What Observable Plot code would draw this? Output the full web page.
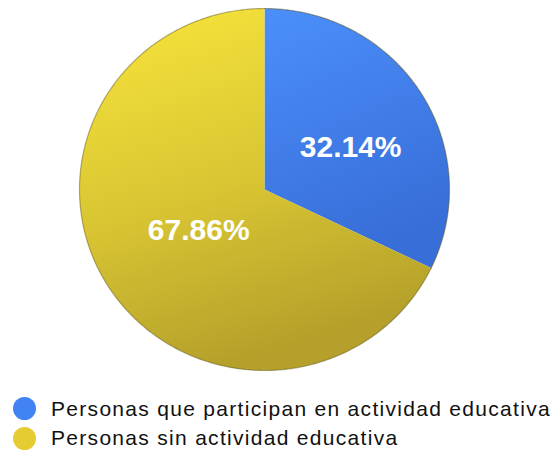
<!DOCTYPE html>
<html>
<head>
<meta charset="utf-8">
<script src="https://cdn.jsdelivr.net/npm/d3@7"></script>
<script src="https://cdn.jsdelivr.net/npm/@observablehq/plot@0.6"></script>
<style>
  html, body { margin: 0; padding: 0; background: #fff; }
  #wrap { width: 558px; height: 452px; position: relative; font-family: "Liberation Sans", Arial, Helvetica, sans-serif; overflow: hidden; }
  #chart svg { display: block; }
  #legend { padding-top: 9px; }
  .row { display: flex; align-items: center; height: 29.5px; font-size: 21px; letter-spacing: 1.3px; color: #111; white-space: nowrap; }
  .sw { width: 23px; height: 23px; border-radius: 50%; margin-left: 13px; margin-right: 15px; flex: none; }
</style>
</head>
<body>
<div id="wrap"><div id="chart"></div><div id="legend"></div></div>
<script>
const categories = ["Personas que participan en actividad educativa", "Personas sin actividad educativa"];
const values = [32.14, 67.86];
const labels = ["32.14%", "67.86%"];
const colors = ["#4183f2", "#e4cc32"];

// Slice geometry from data (d3.pie), drawn through Plot scales
const pie = d3.pie().sort(null).value(d => d.value)(categories.map((c, i) => ({c, value: values[i], label: labels[i], i})));
const outline = [];
pie.forEach(p => {
  const n = Math.max(2, Math.ceil((p.endAngle - p.startAngle) / (Math.PI / 360)));
  outline.push({c: p.data.c, x: 0, y: 0});
  for (let k = 0; k <= n; k++) {
    const a = p.startAngle + (p.endAngle - p.startAngle) * k / n;
    outline.push({c: p.data.c, x: Math.sin(a), y: Math.cos(a)});
  }
  outline.push({c: p.data.c, x: 0, y: 0});
});
const labelPos = (p, r) => {
  const a = (p.startAngle + p.endAngle) / 2;
  return {x: r * Math.sin(a), y: r * Math.cos(a), label: p.data.label};
};
const blueLabel = [labelPos(pie[0], 0.55)].map(d => ({...d, y: d.y - 0.06}));
const yellowLabel = [labelPos(pie[1], 0.42)];

const W = 558, H = 385, cx = 264, cy = 189, RX = 185, RY = 181;
const fills = {[categories[0]]: "url(#gBlue)", [categories[1]]: "url(#gYellow)"};
const font = "Liberation Sans, Arial, sans-serif";

const chart = Plot.plot({
  width: W, height: H,
  marginLeft: cx - RX, marginRight: W - (cx + RX),
  marginTop: cy - RY, marginBottom: H - (cy + RY),
  x: {domain: [-1, 1], axis: null},
  y: {domain: [-1, 1], axis: null},
  marks: [
    Plot.line(outline, {x: "x", y: "y", z: "c", fill: d => fills[d.c], stroke: "none", curve: "linear-closed"}),
    Plot.line(outline.filter(d => !(d.x === 0 && d.y === 0)), {x: "x", y: "y", z: "c", stroke: "rgba(90,80,20,0.45)", strokeWidth: 1.2, fill: "none"}),
    Plot.text(blueLabel, {x: "x", y: "y", text: "label", fill: "white", fontSize: 30, fontWeight: "bold", fontFamily: font}),
    Plot.text(yellowLabel, {x: "x", y: "y", text: "label", fill: "white", fontSize: 30, fontWeight: "bold", fontFamily: font})
  ]
});

// gradients for shading
const svg = d3.select(chart);
const defs = svg.insert("defs", ":first-child");
const gb = defs.append("linearGradient").attr("id", "gBlue").attr("x1", 0).attr("y1", 0).attr("x2", 0.3).attr("y2", 1);
gb.append("stop").attr("offset", "0%").attr("stop-color", "#4b8ffb");
gb.append("stop").attr("offset", "100%").attr("stop-color", "#386ed8");
const gy = defs.append("linearGradient").attr("id", "gYellow").attr("x1", 0.1).attr("y1", 0).attr("x2", 0.4).attr("y2", 1);
gy.append("stop").attr("offset", "0%").attr("stop-color", "#f7e43b");
gy.append("stop").attr("offset", "55%").attr("stop-color", "#d8c432");
gy.append("stop").attr("offset", "100%").attr("stop-color", "#b4a02a");
document.getElementById("chart").appendChild(chart);

const legend = d3.select("#legend");
categories.forEach((c, i) => {
  const row = legend.append("div").attr("class", "row");
  row.append("span").attr("class", "sw").style("background", colors[i]);
  row.append("span").text(c);
});
</script>
</body>
</html>
